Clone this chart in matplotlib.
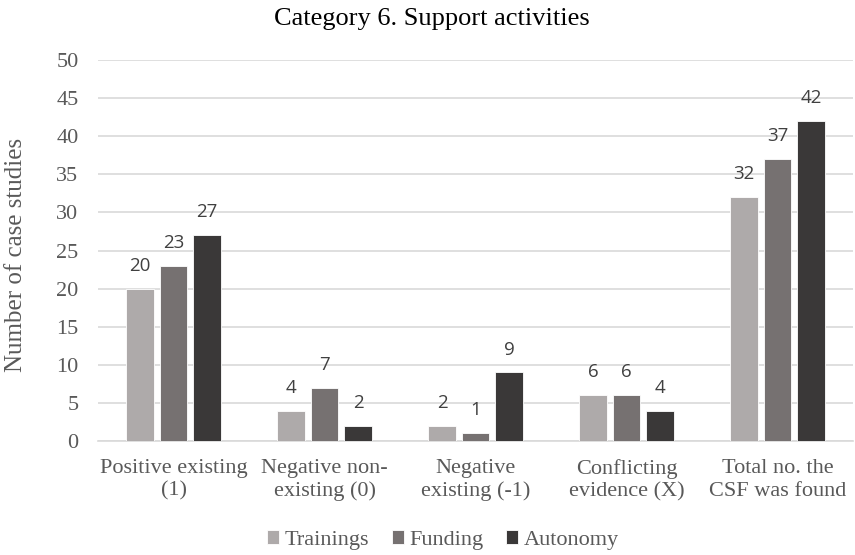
import matplotlib
matplotlib.use("Agg")
import matplotlib.pyplot as plt
import numpy as np

categories = ["Positive existing\n(1)", "Negative non-\nexisting (0)", "Negative\nexisting (-1)",
              "Conflicting\nevidence (X)", "Total no. the\nCSF was found"]
series_names = ["Trainings", "Funding", "Autonomy"]
trainings = [20, 4, 2, 6, 32]
funding = [23, 7, 1, 6, 37]
autonomy = [27, 2, 9, 4, 42]
y_ticks = [0, 5, 10, 15, 20, 25, 30, 35, 40, 45, 50]

colors = ["#AEAAAA", "#767171", "#3A3838"]
serif = "Liberation Serif"
label_font = "Open Sans"

fig = plt.figure(figsize=(8.55, 5.55), dpi=100)
ax = fig.add_axes([98 / 855, 1 - 441 / 555, (853 - 98) / 855, (441 - 60) / 555])

x = np.arange(len(categories))
width = 0.18
step = 0.222
for i, (vals, name, c) in enumerate(zip([trainings, funding, autonomy], series_names, colors)):
    pos = x + (i - 1) * step
    bars = ax.bar(pos, vals, width=width, color=c, label=name, zorder=3,
                  edgecolor="white", linewidth=0.6)
    for b, v in zip(bars, vals):
        ax.annotate(str(v), (b.get_x() + b.get_width() / 2, v), xytext=(0, 10),
                    textcoords="offset points", ha="center", va="bottom",
                    fontsize=13.5, color="#404040", family=label_font)

ax.set_xlim(-0.5, len(categories) - 0.5)
ax.set_ylim(0, 50)
ax.set_yticks(y_ticks)
ax.yaxis.grid(True, color="#D9D9D9", linewidth=1.2, zorder=0)
ax.set_axisbelow(True)
for s in ["top", "right", "left"]:
    ax.spines[s].set_visible(False)
ax.spines["bottom"].set_color("#D9D9D9")
ax.spines["bottom"].set_linewidth(1.2)
ax.tick_params(axis="both", length=0, colors="#595959", labelsize=16)
ax.tick_params(axis="y", pad=14)
ax.tick_params(axis="x", pad=13)
ax.set_xticks(x)
ax.set_xticklabels(categories, family=serif, linespacing=1.25)
for t in ax.get_yticklabels():
    t.set_family(serif)

fig.text(16 / 855, 1 - 255 / 555, "Number of case studies", rotation=90, ha="center", va="center",
         family=serif, fontsize=18, color="#595959")
fig.text(432 / 855, 1 - 19 / 555, "Category 6. Support activities", ha="center", va="center",
         family=serif, fontsize=19, color="#000000")

leg = fig.legend(loc="center", bbox_to_anchor=(443 / 855, 1 - 540 / 555), ncol=3, frameon=False,
                 prop={"family": serif, "size": 16}, handlelength=0.55, handleheight=0.55,
                 handletextpad=0.25, columnspacing=1.0)
for t in leg.get_texts():
    t.set_color("#595959")

fig.savefig("out.png", dpi=100)
